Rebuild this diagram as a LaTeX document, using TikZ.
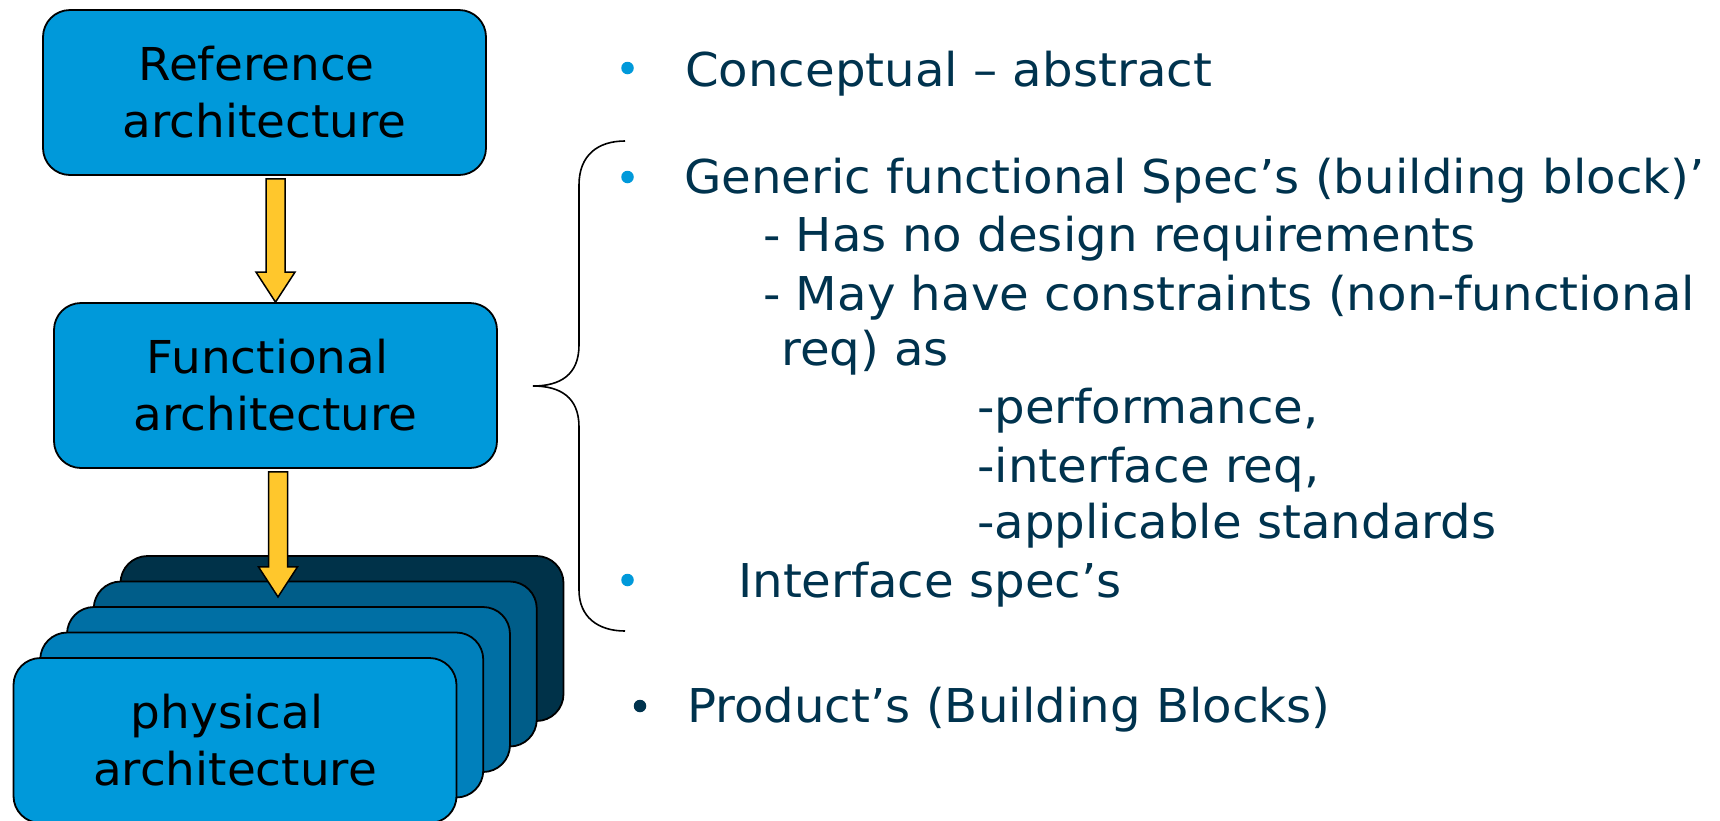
\documentclass[tikz,border=0pt]{standalone}
\usepackage{fontspec}
\setmainfont{DejaVu Sans}[FakeStretch=1.035]
\usetikzlibrary{calc}

\definecolor{boxblue}{RGB}{0,153,218}
\definecolor{stackA}{RGB}{0,128,188}
\definecolor{stackB}{RGB}{0,111,164}
\definecolor{stackC}{RGB}{0,93,137}
\definecolor{stackD}{RGB}{0,50,73}
\definecolor{arrowyellow}{RGB}{255,199,44}
\definecolor{navytext}{RGB}{0,51,78}
\definecolor{bulletblue}{RGB}{0,153,218}

% block arrow pointing down: #1 = top of shaft, #2 = tip
\newcommand{\downblockarrow}[2]{%
  \draw[yarrow] ($(#1)+(-9.5,0)$) -- ($(#2)+(-9.5,-30)$) -- ($(#2)+(-19.5,-30)$)
    -- (#2) -- ($(#2)+(19.5,-30)$) -- ($(#2)+(9.5,-30)$) -- ($(#1)+(9.5,0)$) -- cycle;}

\begin{document}
\begin{tikzpicture}[x=1pt,y=-1pt,
  archbox/.style={draw=black, line width=1.8pt, rounded corners=27pt, fill=boxblue,
    minimum width=443pt, minimum height=165pt, inner sep=0pt, align=center,
    font=\fontsize{45.3}{57}\selectfont},
  yarrow/.style={draw=black, line width=1.5pt, fill=arrowyellow, line join=miter},
  txt/.style={anchor=base west, inner sep=0pt, text=navytext,
    font=\fontsize{46.6}{57}\selectfont},
  bulletdot/.style={circle, fill=#1, minimum size=12.5pt, inner sep=0pt},
  bracepath/.style={draw=black, line width=1.6pt}]

\useasboundingbox (0,0) rectangle (1720,820);
\clip (0,0) rectangle (1720,820);
\fill[white] (0,0) rectangle (1720,820);

% architecture levels
\node[archbox] (ref) at (264.5,92.5) {Reference\hspace*{0.35em}\\architecture};
\node[archbox] (func) at (275.5,385.5) {Functional\hspace*{0.35em}\\architecture};

% stack of physical architectures, back to front
\node[archbox, fill=stackD] (s4) at (342,638.5) {};
\node[archbox, fill=stackC] (s3) at (315.25,664) {};
\node[archbox, fill=stackB] (s2) at (288.5,689.5) {};
\node[archbox, fill=stackA] (s1) at (261.75,715) {};
\node[archbox] (phys) at (235,740.5) {physical\hspace*{0.35em}\\architecture};

% yellow block arrows
\coordinate (a1top) at ($(func.north |- ref.south)+(0,3)$);
\downblockarrow{a1top}{func.north}
\coordinate (a2top) at ($(func.south)+(2.5,3)$);
\coordinate (a2tip) at ($(a2top)+(0,125)$);
\downblockarrow{a2top}{a2tip}

% curly brace grouping the functional items
\path[bracepath] (625,141) .. controls (598,141) and (579,155) .. (579,185)
  -- (579,345) .. controls (579,375) and (560,386) .. (533,386)
  .. controls (560,386) and (579,397) .. (579,427)
  -- (579,590) .. controls (579,617) and (598,631) .. (625,631);

% bullets
\node[bulletdot=bulletblue] (b1) at (627.5,68) {};
\node[bulletdot=bulletblue] (b2) at (627.5,177) {};
\node[bulletdot=bulletblue] (b3) at (627.5,580) {};
\node[bulletdot=navytext] (b4) at (640,706) {};

% descriptions
\node[txt] (t1) at (685,86.7) {Conceptual – abstract};
\node[txt] (t2) at (684,193) {Generic functional Spec’s (building block)’};
\node[txt] (t3) at (763,251) {- Has no design requirements};
\node[txt] (t4) at (763,310) {- May have constraints (non-functional};
\node[txt] (t5) at (781,365) {req) as};
\node[txt] (t6) at (977,423) {-performance,};
\node[txt] (t7) at (977,482) {-interface req,};
\node[txt] (t8) at (977,538) {-applicable standards};
\node[txt] (t9) at (738,597) {Interface spec’s};
\node[txt] (t10) at (687,722) {Product’s (Building Blocks)};
\end{tikzpicture}
\end{document}
